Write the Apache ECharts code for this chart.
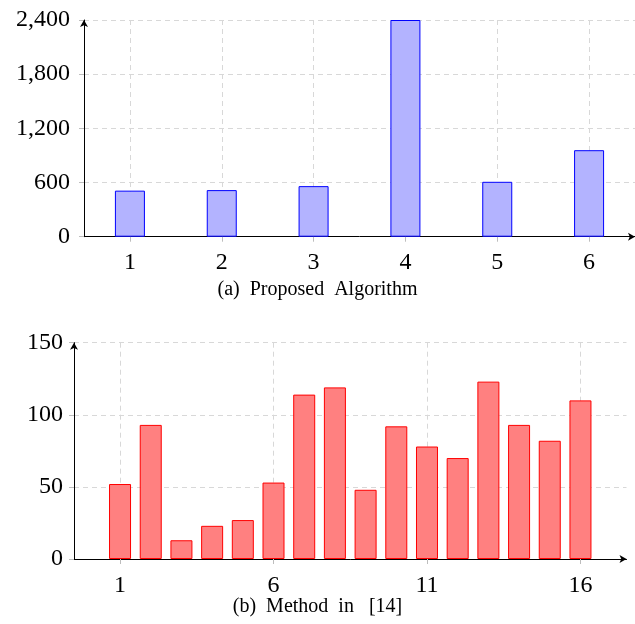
<!DOCTYPE html>
<html>
<head>
<meta charset="utf-8">
<script src="https://cdn.jsdelivr.net/npm/echarts@6/dist/echarts.min.js"></script>
<style>
html,body{margin:0;padding:0;background:#fff;}
#chart{width:635px;height:624px;}
</style>
</head>
<body>
<div id="chart"></div>
<script>
// Data
const catsA = [1, 2, 3, 4, 5, 6];
const valsA = [510, 516, 560, 2400, 608, 958];
const ticksA = [0, 600, 1200, 1800, 2400];
const captionA = '(a)  Proposed  Algorithm';

const catsB = [1, 2, 3, 4, 5, 6, 7, 8, 9, 10, 11, 12, 13, 14, 15, 16];
const valsB = [52, 93, 13, 23, 27, 53, 114, 119, 48, 92, 78, 70, 123, 93, 82, 110];
const xTicksB = [1, 6, 11, 16];
const ticksB = [0, 50, 100, 150];
const captionB = '(b)  Method  in   [14]';

const FONT = '"Liberation Serif", "Times New Roman", serif';
const gridLine = { show: true, lineStyle: { color: '#d8d8d8', type: [5, 4], width: 1 } };
const tickStyle = { show: true, length: 5, lineStyle: { color: '#bdbdbd' } };

function fmt(v) { return String(v).replace(/\B(?=(\d{3})+(?!\d))/g, ','); }

const chart = echarts.init(document.getElementById('chart'), null, { renderer: 'canvas' });
chart.setOption({
  animation: false,
  backgroundColor: '#fff',
  title: [
    { text: captionA, left: 'center', top: 275, textStyle: { fontFamily: FONT, fontWeight: 'normal', fontSize: 20, color: '#000' } },
    { text: captionB, left: 'center', top: 592, textStyle: { fontFamily: FONT, fontWeight: 'normal', fontSize: 20, color: '#000' } }
  ],
  grid: [
    { left: 84, width: 551, top: 20, height: 216.7, containLabel: false },
    { left: 74, width: 552.5, top: 342.7, height: 216.3, containLabel: false }
  ],
  xAxis: [
    {
      type: 'value', gridIndex: 0, min: 0.5, max: 6.5,
      axisLine: { show: true, onZero: false, lineStyle: { color: '#000', width: 1 }, symbol: ['none', 'arrow'], symbolSize: [6, 7] },
      axisTick: Object.assign({ customValues: catsA }, tickStyle),
      axisLabel: { customValues: catsA, margin: 14, fontFamily: FONT, fontSize: 24, color: '#000' },
      splitLine: gridLine
    },
    {
      type: 'value', gridIndex: 1, min: -0.5, max: 17.5,
      axisLine: { show: true, onZero: false, lineStyle: { color: '#000', width: 1 }, symbol: ['none', 'arrow'], symbolSize: [6, 7] },
      axisTick: Object.assign({ customValues: xTicksB }, tickStyle),
      axisLabel: { customValues: xTicksB, margin: 15, fontFamily: FONT, fontSize: 24, color: '#000' },
      splitLine: gridLine
    }
  ],
  yAxis: [
    {
      type: 'value', gridIndex: 0, min: ticksA[0], max: ticksA[ticksA.length - 1], interval: ticksA[1] - ticksA[0],
      axisLine: { show: true, onZero: false, lineStyle: { color: '#000', width: 1 }, symbol: ['none', 'arrow'], symbolSize: [6, 7] },
      axisTick: tickStyle,
      axisLabel: { margin: 14, fontFamily: FONT, fontSize: 24, color: '#000', formatter: fmt },
      splitLine: gridLine
    },
    {
      type: 'value', gridIndex: 1, min: ticksB[0], max: ticksB[ticksB.length - 1], interval: ticksB[1] - ticksB[0],
      axisLine: { show: true, onZero: false, lineStyle: { color: '#000', width: 1 }, symbol: ['none', 'arrow'], symbolSize: [6, 7] },
      axisTick: tickStyle,
      axisLabel: { margin: 11, fontFamily: FONT, fontSize: 24, color: '#000' },
      splitLine: gridLine
    }
  ],
  series: [
    {
      type: 'bar', xAxisIndex: 0, yAxisIndex: 0, barWidth: 30,
      data: catsA.map((c, i) => [c, valsA[i]]),
      itemStyle: { color: 'rgb(179,179,255)', borderColor: '#0000ff', borderWidth: 1 }
    },
    {
      type: 'bar', xAxisIndex: 1, yAxisIndex: 1, barWidth: 22,
      data: catsB.map((c, i) => [c, valsB[i]]),
      itemStyle: { color: 'rgb(255,128,128)', borderColor: '#ff0000', borderWidth: 1 }
    }
  ]
});
</script>
</body>
</html>
